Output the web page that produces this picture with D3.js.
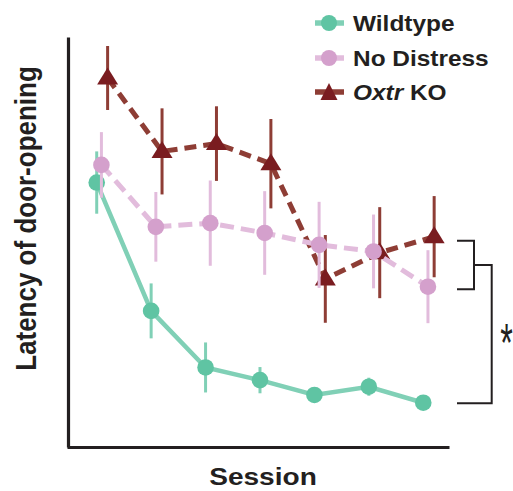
<!DOCTYPE html>
<html>
<head>
<meta charset="utf-8">
<script src="https://cdn.jsdelivr.net/npm/d3@7"></script>
<style>
  body { margin: 0; background: #fff; }
  svg { display: block; font-family: "Liberation Sans", Arial, Helvetica, sans-serif; }
</style>
</head>
<body>
<svg id="chart" width="513" height="491"></svg>
<script>
// sessions and group means / error (latency, arbitrary units, 0 = x axis)
var sessions = [1, 2, 3, 4, 5, 6, 7];
var wildtype = [64.5, 33.2, 19.4, 16.3, 12.7, 14.7, 10.8];
var wildtypeErr = [7.6, 6.7, 6.1, 3.2, 0.7, 2.2, 0.7];
var noDistress = [68.8, 53.7, 54.6, 52.2, 49.3, 47.7, 39.1];
var noDistressErr = [8.0, 8.5, 10.4, 10.2, 10.5, 9.0, 8.9];
var oxtrKO = [90.0, 72.1, 74.0, 69.1, 41.0, 47.4, 51.3];
var oxtrKOErr = [7.8, 10.5, 9.1, 10.9, 10.7, 11.1, 9.9];
// significance brackets (levels at last session)
var innerBracket = [50.3, 38.5];
var outerBracketBottom = 10.7;

var svg = d3.select("#chart");
var ink = "#231f20";

var x = d3.scaleLinear().domain([0.454, 7.473]).range([67, 449]);
var y = d3.scaleLinear().domain([0, 100]).range([447, 37]);

var series = [
  {name: "Oxtr KO", values: oxtrKO, err: oxtrKOErr, shift: 10.9, mark: "#7a1c20", line: "#8e3d35", dash: "12,7", tri: true},
  {name: "Wildtype", values: wildtype, err: wildtypeErr, shift: 0, mark: "#5fc4a3", line: "#80d0b6", dash: null, tri: false},
  {name: "No Distress", values: noDistress, err: noDistressErr, shift: 4.7, mark: "#d4a0cc", line: "#e2bcdc", dash: "14,7", tri: false}
];

function triPath(cx, cy) {
  return "M" + cx + "," + (cy - 10.5) + "L" + (cx + 10.5) + "," + (cy + 6.5) + "L" + (cx - 10.5) + "," + (cy + 6.5) + "Z";
}

series.forEach(function(s) {
  var pts = sessions.map(function(d, i) { return {s: d, v: s.values[i], e: s.err[i]}; });
  var g = svg.append("g");
  var line = d3.line()
    .x(function(d) { return x(d.s) + s.shift; })
    .y(function(d) { return y(d.v); });
  g.append("path")
    .datum(pts)
    .attr("d", line)
    .attr("fill", "none")
    .attr("stroke", s.line)
    .attr("stroke-width", s.dash ? 5 : 4.5)
    .attr("stroke-dasharray", s.dash);
  g.selectAll("line.err")
    .data(pts)
    .enter().append("line")
    .attr("class", "err")
    .attr("x1", function(d) { return x(d.s) + s.shift; })
    .attr("x2", function(d) { return x(d.s) + s.shift; })
    .attr("y1", function(d) { return y(d.v + d.e); })
    .attr("y2", function(d) { return y(d.v - d.e); })
    .attr("stroke", s.line)
    .attr("stroke-width", 3);
  if (s.tri) {
    g.selectAll("path.mk")
      .data(pts)
      .enter().append("path")
      .attr("class", "mk")
      .attr("d", function(d) { return triPath(x(d.s) + s.shift, y(d.v)); })
      .attr("fill", s.mark);
  } else {
    g.selectAll("circle")
      .data(pts)
      .enter().append("circle")
      .attr("cx", function(d) { return x(d.s) + s.shift; })
      .attr("cy", function(d) { return y(d.v); })
      .attr("r", 8.3)
      .attr("fill", s.mark);
  }
});

// axes (no ticks)
svg.append("g")
  .attr("transform", "translate(68,0)")
  .call(d3.axisLeft(y).ticks(0).tickSizeOuter(0));
svg.append("g")
  .attr("transform", "translate(0,447)")
  .call(d3.axisBottom(x).ticks(0).tickSizeOuter(0));
svg.selectAll(".domain").attr("stroke", ink).attr("stroke-width", 3.2);

// axis titles
svg.append("text")
  .attr("transform", "translate(263,485) scale(1.17,1)")
  .attr("text-anchor", "middle")
  .attr("font-size", 24)
  .attr("font-weight", "bold")
  .attr("fill", ink)
  .text("Session");
svg.append("text")
  .attr("transform", "translate(35.5,218.5) rotate(-90) scale(1,1.12)")
  .attr("text-anchor", "middle")
  .attr("font-size", 26)
  .attr("font-weight", "bold")
  .attr("fill", ink)
  .text("Latency of door-opening");

// significance brackets
var bx1 = 457, bx2 = 474, bx3 = 491.7;
var bTop = y(innerBracket[0]), bBot = y(innerBracket[1]), bMid = (bTop + bBot) / 2;
svg.append("path")
  .attr("d", "M" + bx1 + "," + bTop + "H" + bx2 + "V" + bBot + "H" + bx1)
  .attr("fill", "none").attr("stroke", ink).attr("stroke-width", 2);
svg.append("path")
  .attr("d", "M" + bx2 + "," + bMid + "H" + bx3 + "V" + y(outerBracketBottom) + "H" + bx1)
  .attr("fill", "none").attr("stroke", ink).attr("stroke-width", 2);
svg.append("text")
  .attr("transform", "translate(506.5,361) scale(0.85,1.4)")
  .attr("text-anchor", "middle")
  .attr("font-size", 38)
  .attr("fill", ink)
  .text("*");

// legend
var legend = [
  {label: "Wildtype", mark: "#5fc4a3", line: "#80d0b6", tri: false, cy: 23},
  {label: "No Distress", mark: "#d4a0cc", line: "#e2bcdc", tri: false, cy: 58},
  {label: "Oxtr KO", mark: "#7a1c20", line: "#8e3d35", tri: true, cy: 92}
];
legend.forEach(function(l) {
  var g = svg.append("g");
  g.append("line")
    .attr("x1", 315).attr("x2", 344)
    .attr("y1", l.cy).attr("y2", l.cy)
    .attr("stroke", l.line).attr("stroke-width", 5.5);
  if (l.tri) {
    g.append("path").attr("d", "M329," + (l.cy - 9) + "L337.5," + (l.cy + 8) + "L320.5," + (l.cy + 8) + "Z").attr("fill", l.mark);
  } else {
    g.append("circle").attr("cx", 329).attr("cy", l.cy).attr("r", 8).attr("fill", l.mark);
  }
  var t = g.append("text")
    .attr("transform", "translate(353," + (l.cy + 8) + ") scale(1.11,1)")
    .attr("font-size", 22)
    .attr("font-weight", "bold")
    .attr("fill", ink);
  if (l.label === "Oxtr KO") {
    t.append("tspan").attr("font-style", "italic").text("Oxtr");
    t.append("tspan").text(" KO");
  } else {
    t.text(l.label);
  }
});
</script>
</body>
</html>
